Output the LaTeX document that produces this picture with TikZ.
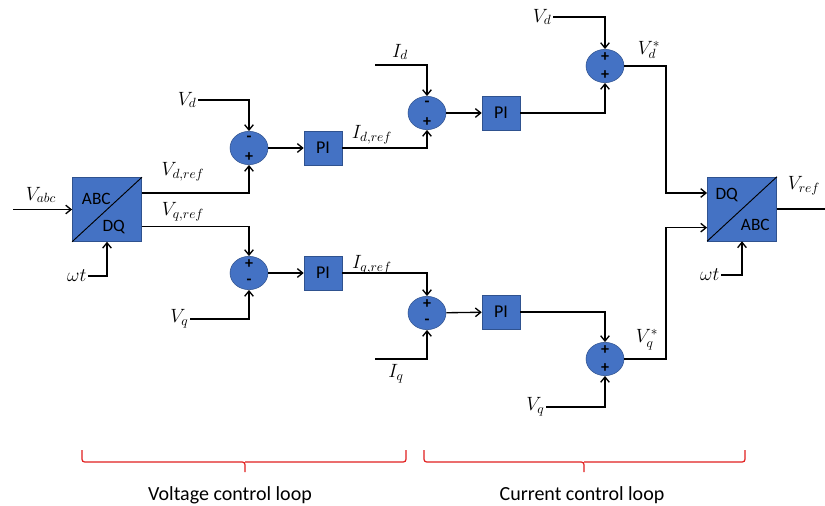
\documentclass[tikz,border=0pt]{standalone}
\usepackage{fontspec}
\setmainfont{Carlito}
\usetikzlibrary{arrows.meta,shapes.geometric}
\definecolor{blockblue}{RGB}{68,114,196}
\definecolor{blockedge}{RGB}{47,82,143}
\definecolor{bracered}{RGB}{225,30,30}

\begin{document}
\begin{tikzpicture}[x=0.75pt,y=-0.75pt,
    wire/.style={line width=1pt},
    arr/.style={wire,-{Straight Barb[length=4pt,width=6.5pt]}},
    sig/.style={font=\fontsize{14.5}{14.5}\selectfont,inner sep=1pt},
    blocktxt/.style={font=\fontsize{13}{13}\selectfont,inner sep=0pt},
    brace/.style={draw=bracered,line width=0.9pt,rounded corners=2pt}]
  \useasboundingbox (0,0) rectangle (825,506);

  % blocks
  \begin{scope}[every node/.style={fill=blockblue,draw=blockedge,inner sep=0pt}]
    \node[rectangle,minimum width=52pt,minimum height=48pt] (t1) at (107,209.5) {};
    \node[rectangle,minimum width=52pt,minimum height=48pt] (t2) at (742,209) {};
    \foreach \n/\x/\y in {1/323/148, 2/323/273, 3/501/113, 4/501/312}
      \node[rectangle,minimum width=28.5pt,minimum height=25.5pt,
            font=\fontsize{13.5}{13.5}\selectfont] (p\n) at (\x,\y) {PI};
    \foreach \n/\x/\y in {1/249/148, 2/249/273, 3/427/113,
                          4/427/313, 5/605/66, 6/605/359}
      \node[ellipse,minimum width=28.5pt,minimum height=25pt] (s\n) at (\x,\y) {};
  \end{scope}

  % signs inside the summing points
  \foreach \n/\up/\dn in {1/-/+, 2/+/-, 3/-/+, 4/+/-, 5/+/+, 6/+/+} {
    \node[font=\bfseries\fontsize{12}{12}\selectfont,inner sep=0pt] (s\n-up) at ([yshift=-6pt]s\n.north) {\up};
    \node[font=\bfseries\fontsize{12}{12}\selectfont,inner sep=0pt] (s\n-dn) at ([yshift=6pt]s\n.south) {\dn};
  }

  % abc/dq transforms
  \draw[line width=0.7pt] (t1.south west) -- (t1.north east);
  \draw[line width=0.7pt] (t2.south west) -- (t2.north east);
  \node[blocktxt] (t1-a) at ([shift={(-8pt,8pt)}]t1.center) {ABC};
  \node[blocktxt] (t1-b) at ([shift={(5pt,-13pt)}]t1.center) {DQ};
  \node[blocktxt] (t2-a) at ([shift={(-11.5pt,10.5pt)}]t2.center) {DQ};
  \node[blocktxt] (t2-b) at ([shift={(10pt,-12pt)}]t2.center) {ABC};

  % voltage loop
  \coordinate (vabc-in) at (13,209.5);
  \node[sig] (vabc) at (41,195) {$V_{abc}$};
  \draw[arr] (vabc-in) -- (t1.west);
  \node[sig,anchor=east] (wt1) at (88,276) {$\omega t$};
  \draw[arr] (wt1.east) -| (t1.south);

  \draw[arr] ([yshift=12.4pt]t1.east) -| (s1.south);
  \draw[arr] ([yshift=-13pt]t1.east) -| (s2.north);
  \node[sig] (vdref) at (183,172) {$V_{d,ref}$};
  \node[sig] (vqref) at (183,212) {$V_{q,ref}$};

  \node[sig,anchor=east] (vd1) at (198,100) {$V_d$};
  \draw[arr] (vd1.east) -| (s1.north);
  \node[sig,anchor=east] (vq1) at (190,319) {$V_q$};
  \draw[arr] (vq1.east) -| (s2.south);

  \draw[arr] (s1) -- (p1);
  \draw[arr] (s2) -- (p2);
  \draw[arr] (p1.east) -| (s3.south);
  \draw[arr] (p2.east) -| (s4.north);
  \node[sig] (idref) at (372,135) {$I_{d,ref}$};
  \node[sig] (iqref) at (372,265) {$I_{q,ref}$};

  % current loop
  \coordinate (id-in) at (375,65);
  \node[sig] (id1) at (400,52) {$I_d$};
  \draw[arr] (id-in) -| (s3.north);
  \coordinate (iq-in) at (375,359);
  \node[sig] (iq1) at (396,374) {$I_q$};
  \draw[arr] (iq-in) -| (s4.south);

  \draw[arr] (s3) -- (p3);
  \draw[arr] (s4) -- (p4);
  \draw[arr] (p3.east) -| (s5.south);
  \draw[arr] (p4.east) -| (s6.north);

  \node[sig,anchor=east] (vd2) at (553,17) {$V_d$};
  \draw[arr] (vd2.east) -| (s5.north);
  \node[sig,anchor=east] (vq2) at (546,407) {$V_q$};
  \draw[arr] (vq2.east) -| (s6.south);

  \coordinate (bus) at (666,0);
  \coordinate (t2-d) at ([yshift=12pt]t2.west);
  \coordinate (t2-q) at ([yshift=-14pt]t2.west);
  \draw[arr] (s5.east) -- (s5.east -| bus) |- (t2-d);
  \draw[arr] (s6.east) -- (s6.east -| bus) |- (t2-q);
  \node[sig] (vdstar) at (649,50) {$V_d^*$};
  \node[sig] (vqstar) at (647,340) {$V_q^*$};

  \coordinate (vref-out) at (825,209);
  \draw[wire] (t2.east) -- (vref-out);
  \node[sig] (vref) at (804,186) {$V_{ref}$};
  \node[sig,anchor=east] (wt2) at (721,275) {$\omega t$};
  \draw[arr] (wt2.east) -| (t2.south);

  % loop braces
  \draw[brace] (82,450) |- (245,462) -- (245,472);
  \draw[brace] (245,462) -| (406,450);
  \draw[brace] (424,450) |- (584,462) -- (584,472);
  \draw[brace] (584,462) -| (745,450);
  \node[font=\fontsize{15}{15}\selectfont] (vloop) at (230,495) {Voltage control loop};
  \node[font=\fontsize{15}{15}\selectfont] (cloop) at (582,495) {Current control loop};
\end{tikzpicture}
\end{document}
